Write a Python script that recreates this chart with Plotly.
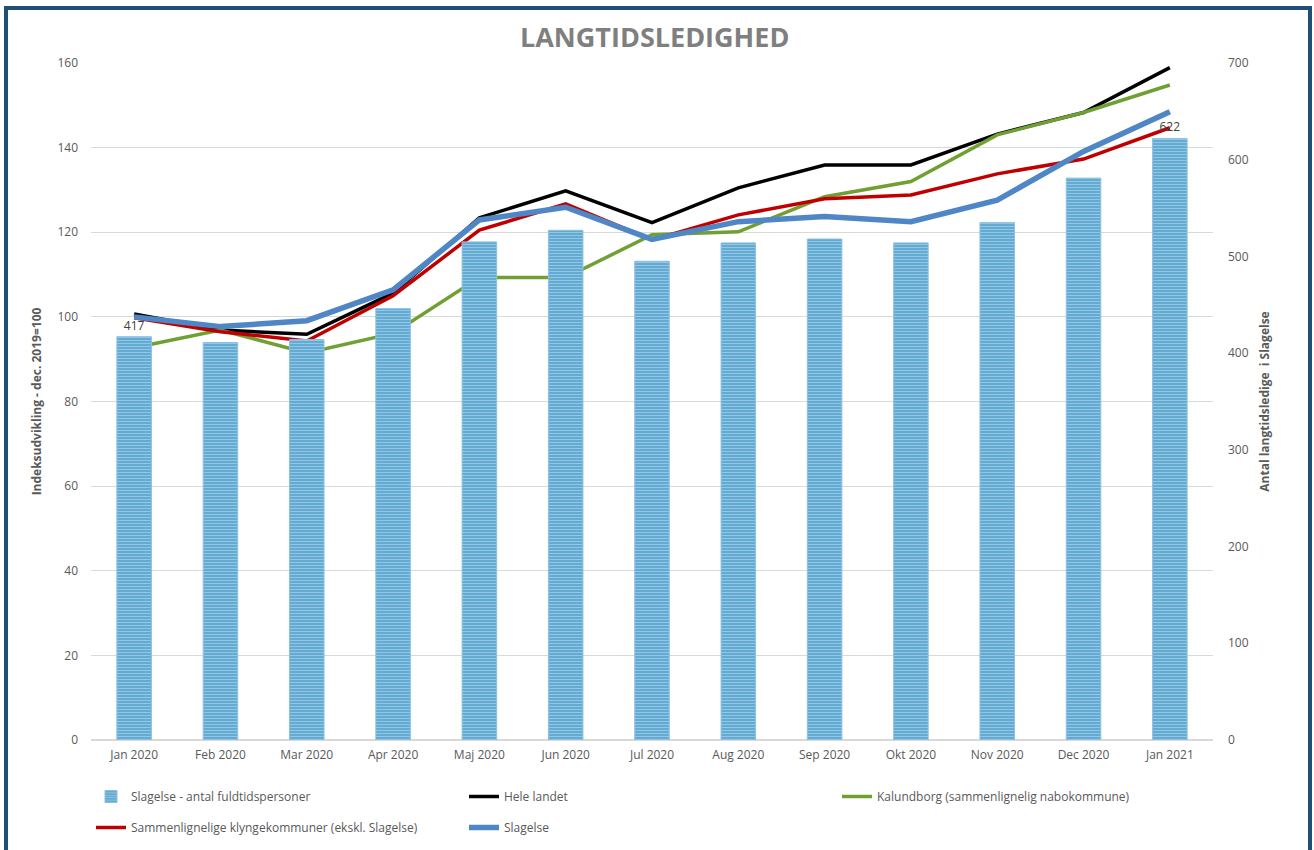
import plotly.graph_objects as go

months = ["Jan 2020", "Feb 2020", "Mar 2020", "Apr 2020", "Maj 2020", "Jun 2020",
          "Jul 2020", "Aug 2020", "Sep 2020", "Okt 2020", "Nov 2020", "Dec 2020", "Jan 2021"]

slagelse_antal = [417, 411, 414, 446, 515, 527, 495, 514, 518, 514, 535, 581, 622]
hele_landet = [100.7, 96.9, 95.9, 105.6, 123.4, 129.8, 122.3, 130.5, 135.9, 135.9, 143.2, 148.3, 158.9]
kalundborg = [92.7, 96.9, 91.5, 96.1, 109.3, 109.3, 119.4, 120.1, 128.4, 132.0, 143.0, 148.3, 154.8]
klynge = [99.8, 96.5, 94.3, 105.0, 120.5, 126.7, 118.2, 124.1, 127.9, 128.8, 133.8, 137.3, 144.7]
slagelse_idx = [100.0, 97.7, 99.1, 106.4, 122.9, 125.9, 118.3, 122.5, 123.7, 122.5, 127.6, 139.1, 148.5]

bar_text = [str(v) if i in (0, len(slagelse_antal) - 1) else "" for i, v in enumerate(slagelse_antal)]

FONT = "Open Sans"
GRAY = "#595959"

fig = go.Figure()

fig.add_trace(go.Bar(
    x=months, y=slagelse_antal, name="Slagelse - antal fuldtidspersoner",
    yaxis="y2", width=0.4, legend="legend",
    marker=dict(color="#5BA3CF", line=dict(color="#8CC0E2", width=1),
                pattern=dict(shape="-", fgcolor="#C6E3F3", bgcolor="#5FA8D3", size=3, solidity=0.4)),
    text=bar_text, textposition="outside", cliponaxis=False,
    textfont=dict(color="#404040", size=12, family=FONT),
))
fig.add_trace(go.Scatter(x=months, y=hele_landet, name="Hele landet", mode="lines", legend="legend",
                         line=dict(color="#000000", width=3.5)))
fig.add_trace(go.Scatter(x=months, y=kalundborg, name="Kalundborg (sammenlignelig nabokommune)", mode="lines",
                         legend="legend", line=dict(color="#70A033", width=3.5)))
fig.add_trace(go.Scatter(x=months, y=klynge, name="Sammenlignelige klyngekommuner (ekskl. Slagelse)", mode="lines",
                         legend="legend2", line=dict(color="#C00000", width=3.5)))
fig.add_trace(go.Scatter(x=months, y=slagelse_idx, name="Slagelse", mode="lines", legend="legend2",
                         line=dict(color="#4F86C6", width=5.5)))

L, R, T, B = 91, 101, 63, 110
W, H = 1314, 850
pw, ph = W - L - R, H - T - B

def px_x(p):
    return (p - L) / pw

def px_y(p):
    return (H - B - p) / ph

legend_common = dict(orientation="h", x=0, xanchor="left", yanchor="top",
                     entrywidth=328, entrywidthmode="pixels", traceorder="normal",
                     font=dict(size=12, color=GRAY, family=FONT), itemwidth=30,
                     bgcolor="rgba(0,0,0,0)")

fig.update_layout(
    width=W, height=H,
    margin=dict(l=L, r=R, t=T, b=B, autoexpand=False),
    paper_bgcolor="white", plot_bgcolor="white",
    font=dict(family=FONT, color=GRAY, size=12),
    title=dict(text="<b>LANGTIDSLEDIGHED</b>", x=px_x(650), xanchor="center",
               y=1 - 38 / H, yanchor="middle",
               font=dict(size=27, color="#7F7F7F", family=FONT)),
    xaxis=dict(showgrid=False, showline=False, ticks="", tickfont=dict(size=12, color=GRAY),
               ticklabelstandoff=6, automargin=False),
    yaxis=dict(range=[0, 160], dtick=20, showgrid=True, gridcolor="#D9D9D9", gridwidth=1,
               zeroline=True, zerolinecolor="#D9D9D9", showline=False, ticks="",
               ticklabelstandoff=12, automargin=False,
               tickfont=dict(size=12, color=GRAY),
               title=dict(text="<b>Indeksudvikling - dec. 2019=100</b>", standoff=13,
                          font=dict(size=12, color=GRAY))),
    yaxis2=dict(range=[0, 700], dtick=100, overlaying="y", side="right", showgrid=False,
                zeroline=False, showline=False, ticks="", ticklabelstandoff=14, automargin=False,
                tickfont=dict(size=12, color=GRAY),
                title=dict(text="<b>Antal langtidsledige  i Slagelse</b>", standoff=12,
                           font=dict(size=12, color=GRAY))),
    legend=dict(legend_common, y=px_y(782)),
    legend2=dict(legend_common, y=px_y(813)),
    bargap=0.6,
    showlegend=True,
    shapes=[dict(type="rect", xref="paper", yref="paper",
                 x0=px_x(6), x1=px_x(1310), y0=px_y(860), y1=px_y(8),
                 line=dict(color="#1F4E79", width=4), fillcolor="rgba(0,0,0,0)", layer="above")],
)

fig.write_html("out.html", config={"displayModeBar": False},
               post_script="document.body.style.margin='0';")
